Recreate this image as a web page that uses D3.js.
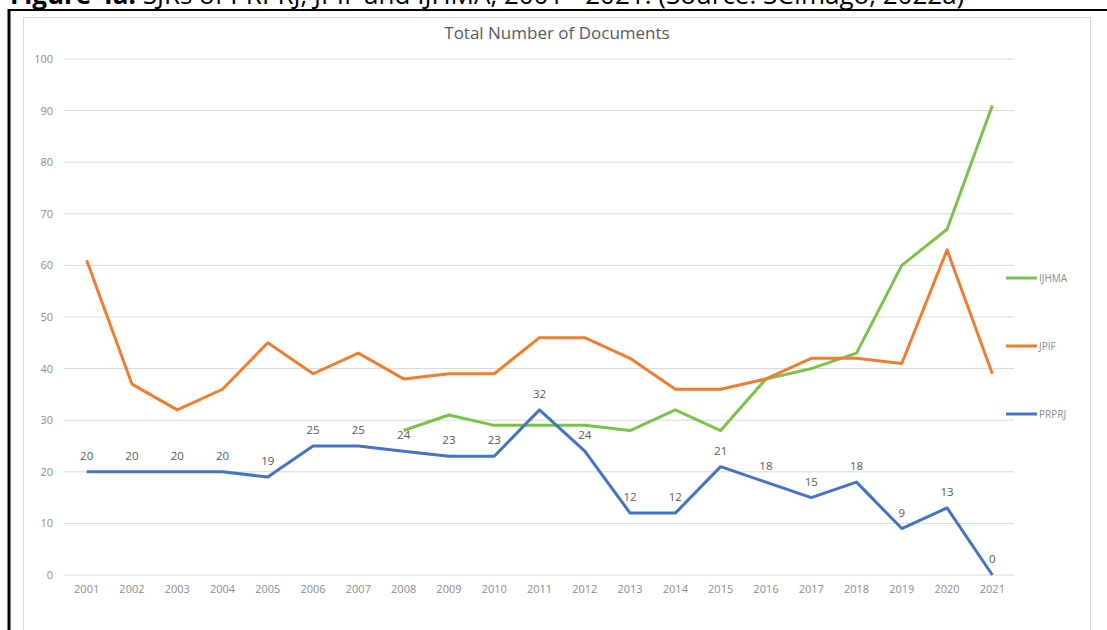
<!DOCTYPE html>
<html>
<head>
<meta charset="utf-8">
<script src="https://cdn.jsdelivr.net/npm/d3@7"></script>
<style>
  body { margin: 0; background: #fff; overflow: hidden; }
</style>
</head>
<body>
<div id="chart"></div>
<script>
const years = ["2001","2002","2003","2004","2005","2006","2007","2008","2009","2010","2011",
               "2012","2013","2014","2015","2016","2017","2018","2019","2020","2021"];
const prprj = [20,20,20,20,19,25,25,24,23,23,32,24,12,12,21,18,15,18,9,13,0];
const jpif  = [61,37,32,36,45,39,43,38,39,39,46,46,42,36,36,38,42,42,41,63,39];
// IJHMA only starts in 2008
const ijhma = [null,null,null,null,null,null,null,28,31,29,29,29,28,32,28,38,40,43,60,67,91];
const yTicks = [0,10,20,30,40,50,60,70,80,90,100];

const series = [
    {name: "IJHMA", values: ijhma, color: "#7cc24a"},
    {name: "JPIF",  values: jpif,  color: "#ed7d31"},
    {name: "PRPRJ", values: prprj, color: "#4472c4"}
];

const width = 1107, height = 630;

const svg = d3.select("#chart").append("svg")
    .attr("width", width)
    .attr("height", height);

// figure caption, cut off at the top of the page
svg.append("text")
    .attr("x", 10)
    .attr("y", 4)
    .attr("font-family", "Open Sans, Liberation Sans, sans-serif")
    .attr("font-size", 26)
    .attr("fill", "#000")
    .html('<tspan font-weight="bold">Figure 4a:</tspan> SJRs of PRPRJ, JPIF and IJHMA, 2001 - 2021. (Source: SCImago, 2022a)');

// black frame of the document table
svg.append("line")
    .attr("x1", 8).attr("x2", width)
    .attr("y1", 10).attr("y2", 10)
    .attr("stroke", "#000").attr("stroke-width", 2);
svg.append("line")
    .attr("x1", 9).attr("x2", 9)
    .attr("y1", 9).attr("y2", height)
    .attr("stroke", "#000").attr("stroke-width", 3);

// chart area border
svg.append("rect")
    .attr("x", 23.5).attr("y", 17.5)
    .attr("width", 1067).attr("height", 640)
    .attr("fill", "#fff")
    .attr("stroke", "#d9d9d9");

svg.append("text")
    .attr("x", 557)
    .attr("y", 39)
    .attr("text-anchor", "middle")
    .attr("font-family", "Open Sans, sans-serif")
    .attr("font-size", 17)
    .attr("fill", "#595959")
    .text("Total Number of Documents");

const x = d3.scaleBand()
    .domain(years)
    .range([64, 1015]);

const y = d3.scaleLinear()
    .domain([0, 100])
    .range([575, 59]);

// gridlines
svg.append("g")
    .selectAll("line")
    .data(yTicks)
    .join("line")
      .attr("x1", 64).attr("x2", 1014)
      .attr("y1", d => y(d)).attr("y2", d => y(d))
      .attr("stroke", "#d9d9d9")
      .attr("stroke-width", 1);

// Y axis
const yAxis = svg.append("g")
    .attr("transform", "translate(64,0)")
    .call(d3.axisLeft(y).tickValues(yTicks).tickSize(0).tickPadding(11));
yAxis.select(".domain").remove();
yAxis.selectAll("text")
    .attr("font-family", "Open Sans, sans-serif")
    .attr("font-size", 11)
    .attr("fill", "#8c8c8c");

// X axis
const xAxis = svg.append("g")
    .attr("transform", "translate(0,575)")
    .call(d3.axisBottom(x).tickSize(0).tickPadding(10));
xAxis.select(".domain").remove();
xAxis.selectAll("text")
    .attr("font-family", "Open Sans, sans-serif")
    .attr("font-size", 11)
    .attr("fill", "#8c8c8c");

const line = d3.line()
    .defined(d => d.v !== null)
    .x(d => x(d.year) + x.bandwidth() / 2)
    .y(d => y(d.v));

series.forEach(s => {
    const pts = years.map((yr, i) => ({year: yr, v: s.values[i]}));
    svg.append("path")
        .datum(pts)
        .attr("fill", "none")
        .attr("stroke", s.color)
        .attr("stroke-width", 3)
        .attr("stroke-linejoin", "round")
        .attr("d", line);
});

// data labels for PRPRJ
svg.append("g")
    .selectAll("text")
    .data(prprj)
    .join("text")
      .attr("x", (d, i) => x(years[i]) + x.bandwidth() / 2)
      .attr("y", d => y(d) - 12)
      .attr("text-anchor", "middle")
      .attr("font-family", "Open Sans, sans-serif")
      .attr("font-size", 11.5)
      .attr("fill", "#595959")
      .text(d => d);

// legend
const legendY = [278, 346, 414];
series.forEach((s, i) => {
    svg.append("line")
        .attr("x1", 1006).attr("x2", 1037)
        .attr("y1", legendY[i]).attr("y2", legendY[i])
        .attr("stroke", s.color)
        .attr("stroke-width", 3);
    svg.append("text")
        .attr("x", 1039)
        .attr("y", legendY[i] + 4)
        .attr("font-family", "Open Sans, sans-serif")
        .attr("font-size", 10)
        .attr("fill", "#8c8c8c")
        .text(s.name);
});
</script>
</body>
</html>
